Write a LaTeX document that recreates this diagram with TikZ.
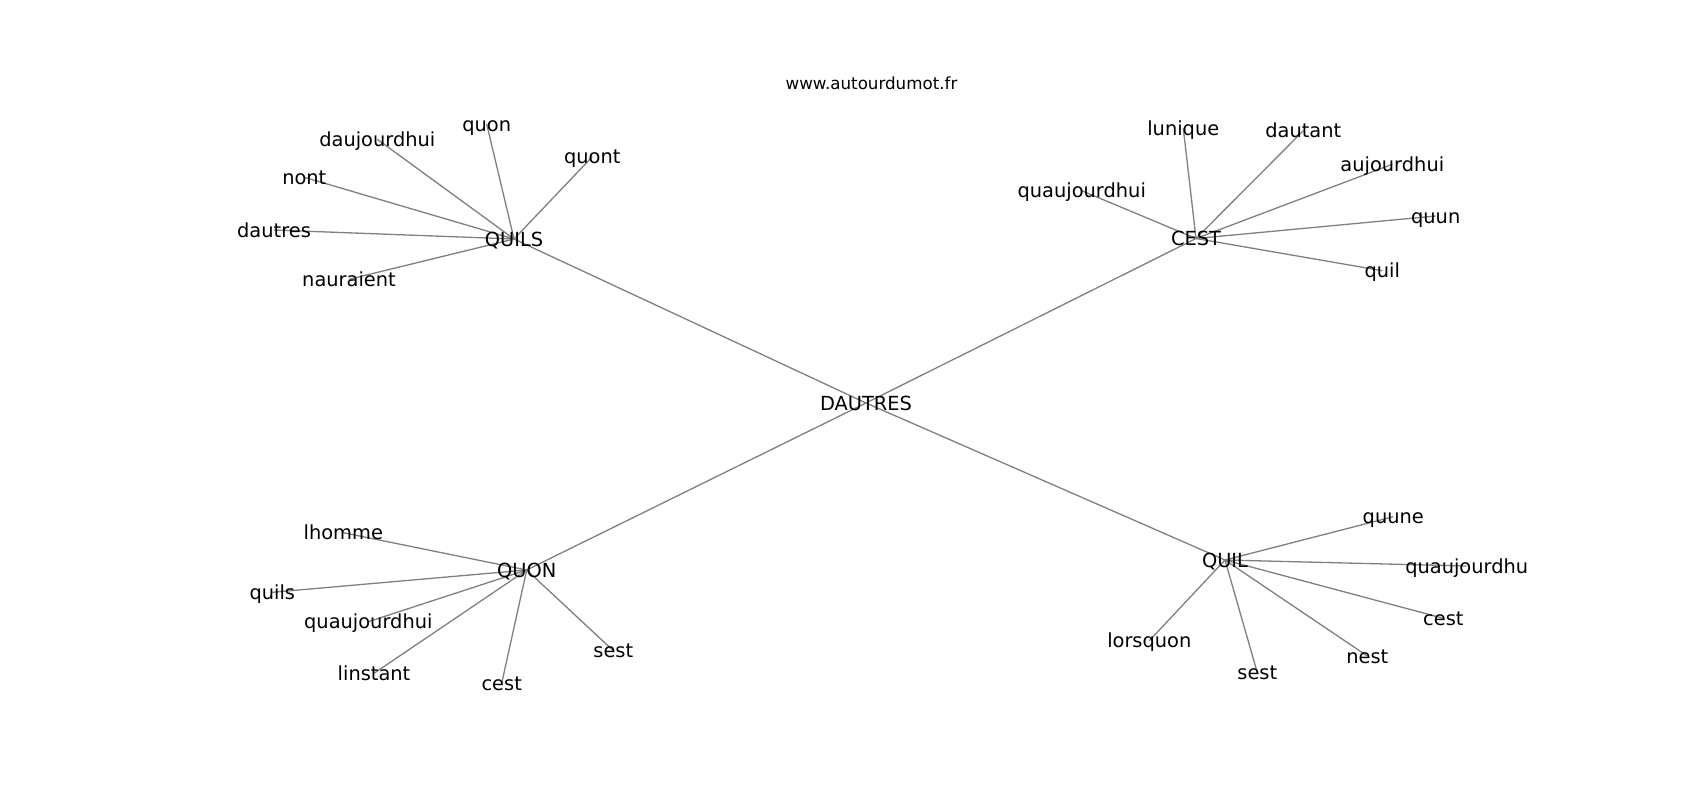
\documentclass[tikz,border=0pt]{standalone}
\usepackage{fontspec}
\setmainfont{DejaVu Sans}
\usetikzlibrary{backgrounds}
\tikzset{
  word/.style={inner sep=0pt, text height=18.6pt, text depth=4.6pt, font=\fontsize{19.4}{23}\selectfont, text=black},
  link/.style={draw=gray, line width=1.3pt}
}
\begin{document}
\begin{tikzpicture}[x=1pt,y=-1pt]
\useasboundingbox (0,0) rectangle (1700,800);
\node[inner sep=0pt, text height=17.6pt, text depth=4.2pt, font=\fontsize{16.7}{20}\selectfont] (title) at (871.5,82.3) {www.autourdumot.fr};
% hubs
\node[word] (dautres) at (866,403) {DAUTRES};
\node[word] (quils) at (514,239) {QUILS};
\node[word] (cest) at (1196,238.5) {CEST};
\node[word] (quon) at (526.7,570) {QUON};
\node[word] (quil) at (1225,560) {QUIL};
% QUILS leaves
\node[word] (a1) at (486.7,124) {quon};
\node[word] (a2) at (377.3,139.3) {daujourdhui};
\node[word] (a3) at (304.3,177.3) {nont};
\node[word] (a4) at (274,230) {dautres};
\node[word] (a5) at (349,279.3) {nauraient};
\node[word] (a6) at (592.3,156.7) {quont};
% CEST leaves
\node[word] (b1) at (1183.3,128.3) {lunique};
\node[word] (b2) at (1303.3,130.7) {dautant};
\node[word] (b3) at (1392.3,164.3) {aujourdhui};
\node[word] (b4) at (1081.7,190.7) {quaujourdhui};
\node[word] (b5) at (1435.7,216) {quun};
\node[word] (b6) at (1382.3,270.7) {quil};
% QUON leaves
\node[word] (c1) at (343.3,532.7) {lhomme};
\node[word] (c2) at (272.3,592.3) {quils};
\node[word] (c3) at (368.3,621.7) {quaujourdhui};
\node[word] (c4) at (374,673.3) {linstant};
\node[word] (c5) at (501.7,683.3) {cest};
\node[word] (c6) at (613.3,650.7) {sest};
% QUIL leaves
\node[word] (d1) at (1393.3,516.7) {quune};
\node[word] (d2) at (1466.7,566) {quaujourdhu};
\node[word] (d3) at (1443.3,618.3) {cest};
\node[word] (d4) at (1367.3,656) {nest};
\node[word] (d5) at (1257.3,672.7) {sest};
\node[word] (d6) at (1149.3,640.7) {lorsquon};
\begin{scope}[on background layer]
\fill[white] (0,0) rectangle (1700,800);
\foreach \h in {quils,cest,quon,quil} \draw[link] (dautres.center) -- (\h.center);
\foreach \l in {a1,a2,a3,a4,a5,a6} \draw[link] (quils.center) -- (\l.center);
\foreach \l in {b1,b2,b3,b4,b5,b6} \draw[link] (cest.center) -- (\l.center);
\foreach \l in {c1,c2,c3,c4,c5,c6} \draw[link] (quon.center) -- (\l.center);
\foreach \l in {d1,d2,d3,d4,d5,d6} \draw[link] (quil.center) -- (\l.center);
\end{scope}
\end{tikzpicture}
\end{document}
